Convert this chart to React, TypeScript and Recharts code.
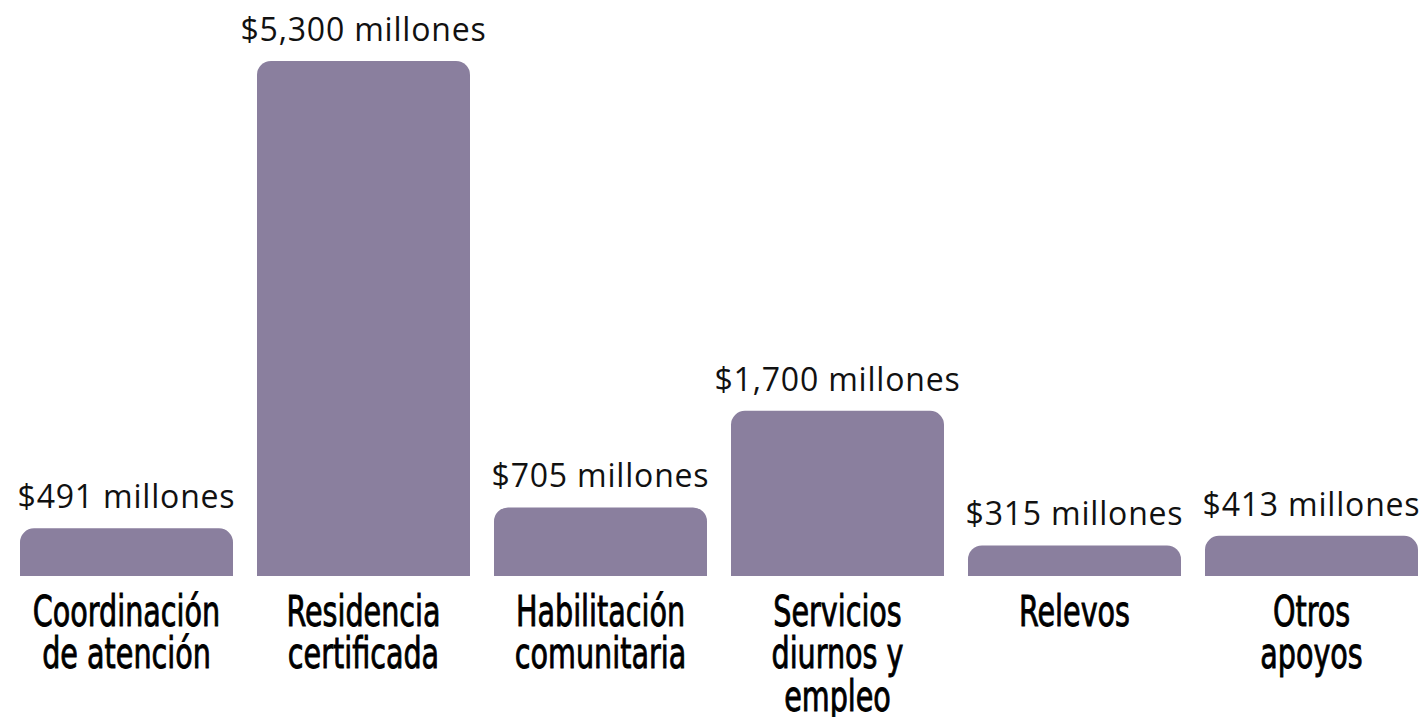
import { BarChart, Bar, XAxis, YAxis, LabelList } from "recharts"

const categories = [
  "Coordinación de atención",
  "Residencia certificada",
  "Habilitación comunitaria",
  "Servicios diurnos y empleo",
  "Relevos",
  "Otros apoyos",
]

// how each category label wraps under its bar
const categoryLines = [
  ["Coordinación", "de atención"],
  ["Residencia", "certificada"],
  ["Habilitación", "comunitaria"],
  ["Servicios", "diurnos y", "empleo"],
  ["Relevos"],
  ["Otros", "apoyos"],
]

const values = [491, 5300, 705, 1700, 315, 413]
const valueLabels = [
  "$491 millones",
  "$5,300 millones",
  "$705 millones",
  "$1,700 millones",
  "$315 millones",
  "$413 millones",
]

const data = categories.map((name, i) => ({
  name,
  value: values[i],
  label: valueLabels[i],
}))

const BAR_COLOR = "#8a7f9e"

function CategoryTick(props: any) {
  const { x, y, payload } = props
  const lines = categoryLines[payload.index] ?? [payload.value]
  return (
    <g transform={`translate(${x},${y}) scale(0.74,1)`}>
      <text
        textAnchor="middle"
        fill="#000"
        stroke="#000"
        strokeWidth={0.9}
        fontFamily="'DejaVu Sans Condensed', 'DejaVu Sans', sans-serif"
        fontSize={43}
      >
        {lines.map((line: string, i: number) => (
          <tspan key={i} x={0} y={42 + i * 42.5}>
            {line}
          </tspan>
        ))}
      </text>
    </g>
  )
}

export default function App() {
  return (
    <div style={{ width: 1420, height: 717, overflow: "hidden", position: "relative" }}>
      <style>{"body{margin:0}"}</style>
      <BarChart
        width={1430}
        height={717}
        data={data}
        margin={{ top: 61, right: 0, left: 8, bottom: 0 }}
        barCategoryGap={12}
      >
        <YAxis hide domain={[0, 5300]} />
        <XAxis
          dataKey="name"
          height={141}
          axisLine={false}
          tickLine={false}
          interval={0}
          tick={<CategoryTick />}
        />
        <Bar
          dataKey="value"
          fill={BAR_COLOR}
          radius={[14, 14, 0, 0]}
          isAnimationActive={false}
        >
          <LabelList
            dataKey="label"
            position="top"
            offset={20}
            fill="#111"
            fontFamily="'Open Sans', sans-serif"
            fontSize={32}
            letterSpacing={0.8}
          />
        </Bar>
      </BarChart>
    </div>
  )
}
